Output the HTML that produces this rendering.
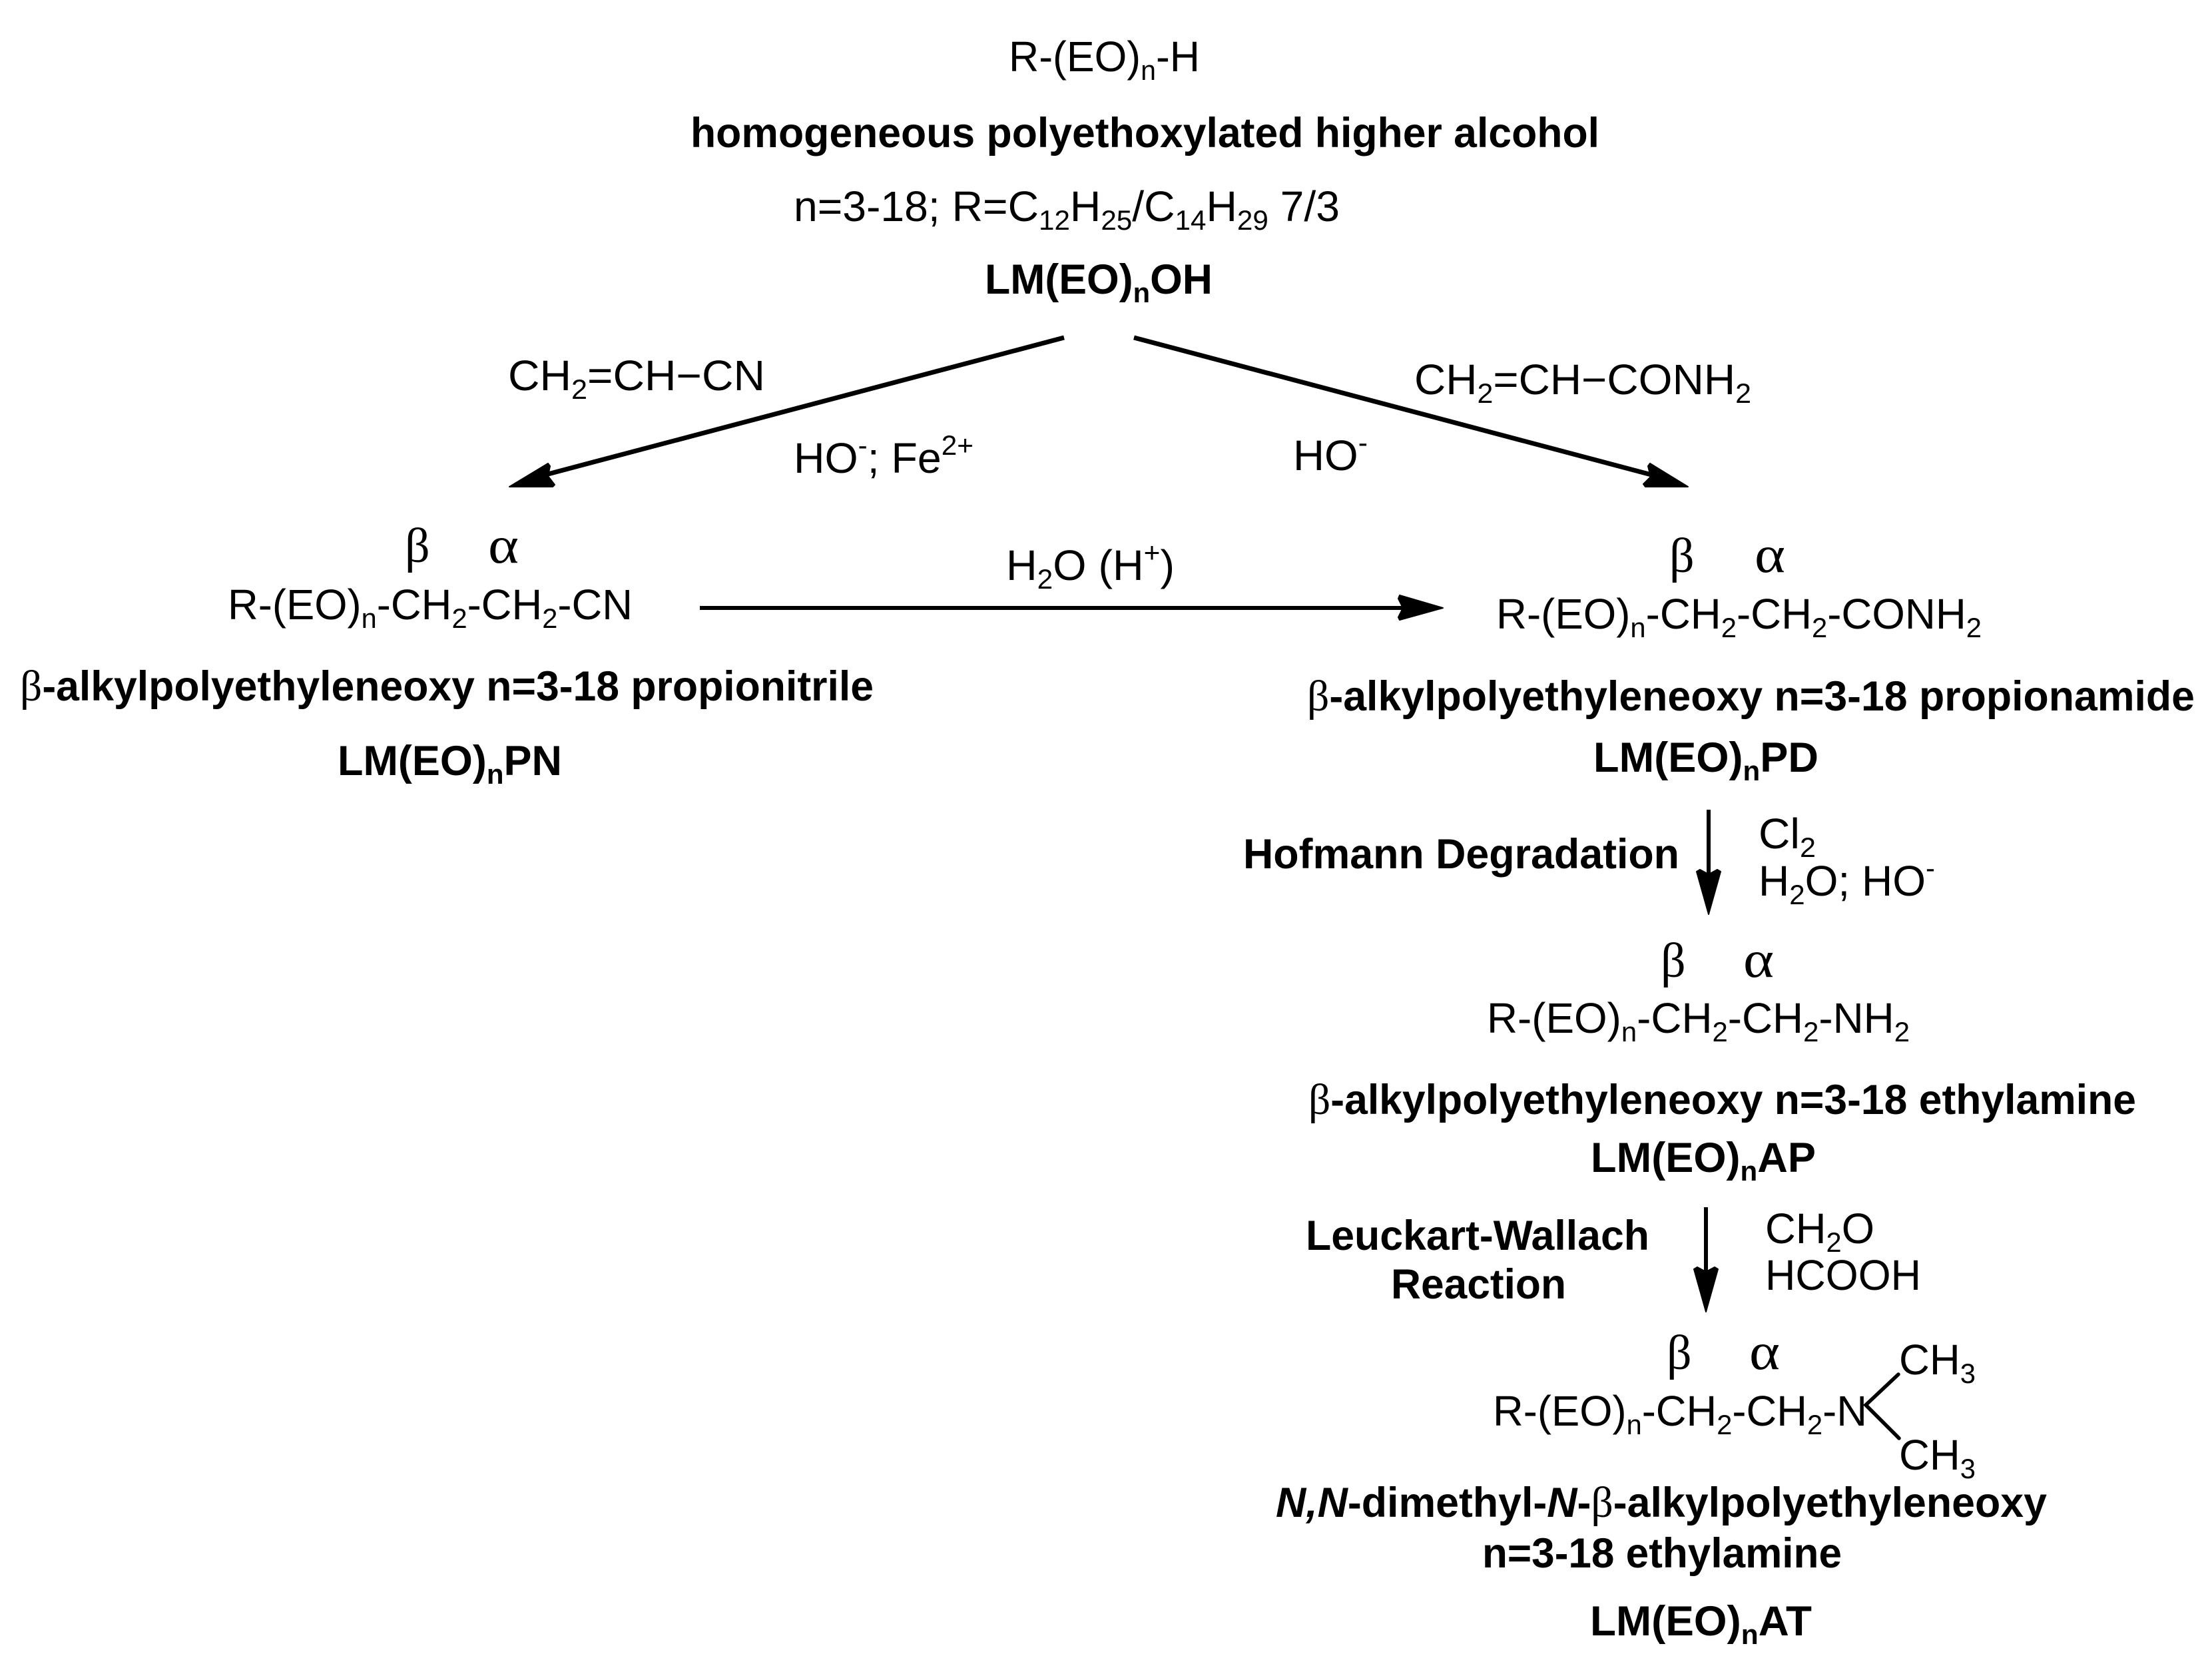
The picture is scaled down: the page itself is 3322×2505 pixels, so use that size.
<!DOCTYPE html>
<html><head><meta charset="utf-8"><style>
html,body{margin:0;padding:0;background:#fff;width:3322px;height:2505px;overflow:hidden}
svg{display:block}
text{font-family:"Liberation Sans",sans-serif;font-size:64px;fill:#000;white-space:pre}
.b{font-weight:bold;font-size:63px}
.g{font-family:"Liberation Serif",serif;font-size:74px}
.a{font-family:"Liberation Serif",serif;font-size:78px}
.gs{font-family:"Liberation Serif",serif;font-weight:normal;font-size:66px}
.s{font-size:42px}
</style></head><body>
<svg width="3322" height="2505" viewBox="0 0 3322 2505" xmlns="http://www.w3.org/2000/svg">
<rect width="3322" height="2505" fill="#fff"/>
<!-- top -->
<text x="1515" y="107" textLength="287" lengthAdjust="spacingAndGlyphs">R-(EO)<tspan class="s" dy="13">n</tspan><tspan dy="-13">-H</tspan></text>
<text class="b" x="1037" y="221" textLength="1365" lengthAdjust="spacingAndGlyphs">homogeneous polyethoxylated higher alcohol</text>
<text x="1192" y="332" textLength="820" lengthAdjust="spacingAndGlyphs">n=3-18; R=C<tspan class="s" dy="13">12</tspan><tspan dy="-13">H</tspan><tspan class="s" dy="13">25</tspan><tspan dy="-13">/C</tspan><tspan class="s" dy="13">14</tspan><tspan dy="-13">H</tspan><tspan class="s" dy="13">29</tspan><tspan dy="-13"> 7/3</tspan></text>
<text class="b" x="1479" y="441" textLength="342" lengthAdjust="spacingAndGlyphs">LM(EO)<tspan class="s" dy="13">n</tspan><tspan dy="-13">OH</tspan></text>
<!-- reagents -->
<text x="763" y="586" textLength="386" lengthAdjust="spacingAndGlyphs">CH<tspan class="s" dy="13">2</tspan><tspan dy="-13">=CH−CN</tspan></text>
<text x="2124" y="592" textLength="506" lengthAdjust="spacingAndGlyphs">CH<tspan class="s" dy="13">2</tspan><tspan dy="-13">=CH−CONH</tspan><tspan class="s" dy="13">2</tspan></text>
<text x="1192" y="710" textLength="270" lengthAdjust="spacingAndGlyphs">HO<tspan class="s" dy="-27">-</tspan><tspan dy="27">; Fe</tspan><tspan class="s" dy="-27">2+</tspan></text>
<text x="1942" y="706" textLength="112" lengthAdjust="spacingAndGlyphs">HO<tspan class="s" dy="-27">-</tspan></text>
<text x="1511" y="871" textLength="253" lengthAdjust="spacingAndGlyphs">H<tspan class="s" dy="13">2</tspan><tspan dy="-13">O (H</tspan><tspan class="s" dy="-27">+</tspan><tspan dy="27">)</tspan></text>
<!-- left product -->
<text class="g" x="608" y="844">β</text><text class="a" x="733" y="845" textLength="46" lengthAdjust="spacingAndGlyphs">α</text>
<text x="342" y="930" textLength="608" lengthAdjust="spacingAndGlyphs">R-(EO)<tspan class="s" dy="13">n</tspan><tspan dy="-13">-CH</tspan><tspan class="s" dy="13">2</tspan><tspan dy="-13">-CH</tspan><tspan class="s" dy="13">2</tspan><tspan dy="-13">-CN</tspan></text>
<text class="b" x="30" y="1052" textLength="1282" lengthAdjust="spacingAndGlyphs"><tspan class="gs">β</tspan>-alkylpolyethyleneoxy n=3-18 propionitrile</text>
<text class="b" x="507" y="1164" textLength="337" lengthAdjust="spacingAndGlyphs">LM(EO)<tspan class="s" dy="13">n</tspan><tspan dy="-13">PN</tspan></text>
<!-- right product 1 -->
<text class="g" x="2507" y="859">β</text><text class="a" x="2635" y="859" textLength="46" lengthAdjust="spacingAndGlyphs">α</text>
<text x="2247" y="944" textLength="729" lengthAdjust="spacingAndGlyphs">R-(EO)<tspan class="s" dy="13">n</tspan><tspan dy="-13">-CH</tspan><tspan class="s" dy="13">2</tspan><tspan dy="-13">-CH</tspan><tspan class="s" dy="13">2</tspan><tspan dy="-13">-CONH</tspan><tspan class="s" dy="13">2</tspan></text>
<text class="b" x="1963" y="1067" textLength="1333" lengthAdjust="spacingAndGlyphs"><tspan class="gs">β</tspan>-alkylpolyethyleneoxy n=3-18 propionamide</text>
<text class="b" x="2393" y="1159" textLength="338" lengthAdjust="spacingAndGlyphs">LM(EO)<tspan class="s" dy="13">n</tspan><tspan dy="-13">PD</tspan></text>
<text class="b" x="1867" y="1304" textLength="655" lengthAdjust="spacingAndGlyphs">Hofmann Degradation</text>
<text x="2641" y="1274" textLength="86" lengthAdjust="spacingAndGlyphs">Cl<tspan class="s" dy="13">2</tspan></text>
<text x="2641" y="1345" textLength="265" lengthAdjust="spacingAndGlyphs">H<tspan class="s" dy="13">2</tspan><tspan dy="-13">O; HO</tspan><tspan class="s" dy="-27">-</tspan></text>
<!-- right product 2 -->
<text class="g" x="2494" y="1467">β</text><text class="a" x="2618" y="1467" textLength="46" lengthAdjust="spacingAndGlyphs">α</text>
<text x="2233" y="1551" textLength="635" lengthAdjust="spacingAndGlyphs">R-(EO)<tspan class="s" dy="13">n</tspan><tspan dy="-13">-CH</tspan><tspan class="s" dy="13">2</tspan><tspan dy="-13">-CH</tspan><tspan class="s" dy="13">2</tspan><tspan dy="-13">-NH</tspan><tspan class="s" dy="13">2</tspan></text>
<text class="b" x="1965" y="1673" textLength="1243" lengthAdjust="spacingAndGlyphs"><tspan class="gs">β</tspan>-alkylpolyethyleneoxy n=3-18 ethylamine</text>
<text class="b" x="2389" y="1760" textLength="338" lengthAdjust="spacingAndGlyphs">LM(EO)<tspan class="s" dy="13">n</tspan><tspan dy="-13">AP</tspan></text>
<text class="b" x="1961" y="1877" textLength="516" lengthAdjust="spacingAndGlyphs">Leuckart-Wallach</text>
<text class="b" x="2089" y="1950" textLength="263" lengthAdjust="spacingAndGlyphs">Reaction</text>
<text x="2651" y="1867" textLength="164" lengthAdjust="spacingAndGlyphs">CH<tspan class="s" dy="13">2</tspan><tspan dy="-13">O</tspan></text>
<text x="2651" y="1937" textLength="234" lengthAdjust="spacingAndGlyphs">HCOOH</text>
<!-- right product 3 -->
<text class="g" x="2503" y="2056">β</text><text class="a" x="2627" y="2056" textLength="46" lengthAdjust="spacingAndGlyphs">α</text>
<text x="2242" y="2141" textLength="562" lengthAdjust="spacingAndGlyphs">R-(EO)<tspan class="s" dy="13">n</tspan><tspan dy="-13">-CH</tspan><tspan class="s" dy="13">2</tspan><tspan dy="-13">-CH</tspan><tspan class="s" dy="13">2</tspan><tspan dy="-13">-N</tspan></text>
<text x="2852" y="2064" textLength="115" lengthAdjust="spacingAndGlyphs">CH<tspan class="s" dy="13">3</tspan></text>
<text x="2852" y="2207" textLength="115" lengthAdjust="spacingAndGlyphs">CH<tspan class="s" dy="13">3</tspan></text>
<text class="b" x="1916" y="2278" textLength="1158" lengthAdjust="spacingAndGlyphs"><tspan font-style="italic">N,N</tspan>-dimethyl-<tspan font-style="italic">N</tspan>-<tspan class="gs">β</tspan>-alkylpolyethyleneoxy</text>
<text class="b" x="2226" y="2354" textLength="540" lengthAdjust="spacingAndGlyphs">n=3-18 ethylamine</text>
<text class="b" x="2388" y="2456" textLength="333" lengthAdjust="spacingAndGlyphs">LM(EO)<tspan class="s" dy="13">n</tspan><tspan dy="-13">AT</tspan></text>
<!-- connectors -->
<g stroke="#000" stroke-width="7" fill="none">
<line x1="1598" y1="507" x2="823" y2="712"/>
<line x1="1703" y1="507" x2="2480" y2="713"/>
<line x1="1051" y1="913" x2="2110" y2="913" stroke-width="6"/>
<line x1="2566" y1="1216" x2="2566" y2="1315" stroke-width="6"/>
<line x1="2562" y1="1813" x2="2562" y2="1912" stroke-width="6"/>
</g>
<g fill="#000" stroke="#000" stroke-width="2" stroke-linejoin="round">
<polygon points="765,731 823,696 826,700 823,715 833,728 830,731"/>
<polygon points="2535,731 2478,696 2475,700 2479,716 2468,727 2471,731"/>
<polygon points="2167,913 2102,894 2100,899 2107,913 2100,927 2102,931"/>
<polygon points="2566,1373 2548,1309 2553,1306 2566,1313 2579,1306 2584,1309"/>
<polygon points="2562,1970 2544,1906 2549,1903 2562,1910 2575,1903 2580,1906"/>
</g>
<path d="M2851 2064L2802 2110L2852 2160" stroke="#000" stroke-width="5.5" fill="none" stroke-linecap="round"/>
</svg>
</body></html>
